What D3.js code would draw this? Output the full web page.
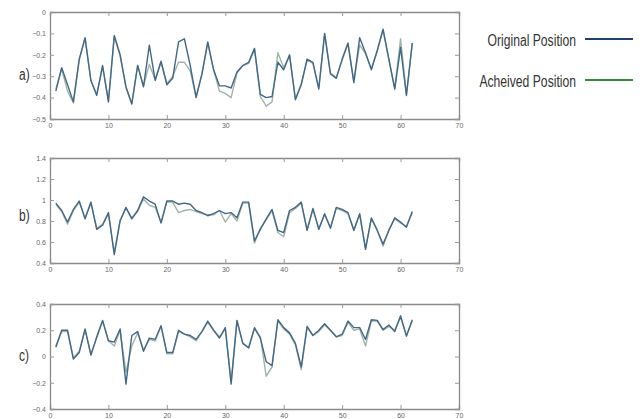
<!DOCTYPE html>
<html>
<head>
<meta charset="utf-8">
<script src="https://d3js.org/d3.v7.min.js"></script>
<style>
  body { margin: 0; background: #fff; }
  text { font-family: "Liberation Sans", Arial, sans-serif; }
</style>
</head>
<body>
<svg width="644" height="419"></svg>
<script>
// sample index along the x axis (1..62)
var steps = d3.range(1, 63);
var xTicks = [0, 10, 20, 30, 40, 50, 60, 70];

var origA = [-0.37, -0.26, -0.34, -0.42, -0.22, -0.12, -0.32, -0.39, -0.25, -0.42,
  -0.11, -0.20, -0.35, -0.43, -0.25, -0.35, -0.155, -0.32, -0.23, -0.34,
  -0.31, -0.14, -0.125, -0.25, -0.40, -0.29, -0.14, -0.27, -0.345, -0.345,
  -0.355, -0.28, -0.25, -0.235, -0.17, -0.385, -0.40, -0.395, -0.235, -0.27,
  -0.20, -0.41, -0.34, -0.22, -0.235, -0.36, -0.10, -0.29, -0.31, -0.22,
  -0.145, -0.33, -0.12, -0.19, -0.27, -0.18, -0.08, -0.22, -0.36, -0.165, -0.39, -0.145];
var achA = [-0.36, -0.265, -0.37, -0.425, -0.225, -0.125, -0.32, -0.385, -0.255, -0.415,
  -0.115, -0.205, -0.35, -0.43, -0.25, -0.345, -0.245, -0.315, -0.235, -0.335,
  -0.30, -0.235, -0.235, -0.275, -0.395, -0.29, -0.145, -0.27, -0.37, -0.38,
  -0.40, -0.285, -0.25, -0.24, -0.175, -0.395, -0.44, -0.42, -0.19, -0.26,
  -0.205, -0.405, -0.335, -0.225, -0.24, -0.355, -0.105, -0.285, -0.305, -0.225,
  -0.15, -0.325, -0.155, -0.195, -0.265, -0.185, -0.085, -0.225, -0.355, -0.125, -0.385, -0.15];
var yTicksA = [-0.5, -0.4, -0.3, -0.2, -0.1, 0];

var origB = [0.97, 0.90, 0.79, 0.91, 0.99, 0.82, 0.98, 0.72, 0.76, 0.88,
  0.48, 0.80, 0.93, 0.82, 0.90, 1.03, 0.99, 0.96, 0.78, 0.99,
  0.99, 0.96, 0.97, 0.96, 0.90, 0.88, 0.85, 0.87, 0.90, 0.87,
  0.88, 0.83, 0.98, 0.98, 0.61, 0.72, 0.82, 0.91, 0.71, 0.69,
  0.90, 0.93, 0.98, 0.71, 0.92, 0.72, 0.87, 0.73, 0.93, 0.91,
  0.88, 0.71, 0.87, 0.53, 0.83, 0.71, 0.58, 0.71, 0.83, 0.79, 0.74, 0.89];
var achB = [0.96, 0.89, 0.77, 0.90, 0.98, 0.83, 0.97, 0.73, 0.77, 0.87,
  0.50, 0.81, 0.92, 0.83, 0.89, 1.01, 0.95, 0.93, 0.79, 0.98,
  0.98, 0.88, 0.90, 0.91, 0.89, 0.87, 0.86, 0.86, 0.90, 0.79,
  0.87, 0.80, 0.97, 0.97, 0.59, 0.73, 0.81, 0.90, 0.69, 0.65,
  0.88, 0.92, 0.97, 0.72, 0.91, 0.73, 0.86, 0.74, 0.92, 0.90,
  0.87, 0.72, 0.86, 0.54, 0.82, 0.72, 0.56, 0.72, 0.82, 0.78, 0.75, 0.88];
var yTicksB = [0.4, 0.6, 0.8, 1, 1.2, 1.4];

var origC = [0.07, 0.20, 0.20, -0.02, 0.03, 0.21, 0.01, 0.15, 0.275, 0.12,
  0.11, 0.21, -0.21, 0.16, 0.19, 0.04, 0.14, 0.13, 0.235, 0.03,
  0.03, 0.20, 0.17, 0.16, 0.13, 0.19, 0.27, 0.20, 0.14, 0.22,
  -0.21, 0.275, 0.10, 0.065, 0.22, 0.14, -0.04, -0.07, 0.28, 0.22,
  0.18, 0.10, -0.08, 0.23, 0.16, 0.20, 0.25, 0.20, 0.15, 0.17,
  0.27, 0.22, 0.22, 0.13, 0.28, 0.275, 0.205, 0.24, 0.19, 0.31, 0.155, 0.28];
var achC = [0.08, 0.19, 0.19, -0.01, 0.04, 0.20, 0.02, 0.14, 0.27, 0.12,
  0.08, 0.20, -0.12, 0.08, 0.18, 0.05, 0.13, 0.12, 0.23, 0.02,
  0.02, 0.19, 0.17, 0.15, 0.12, 0.19, 0.26, 0.20, 0.15, 0.21,
  -0.19, 0.27, 0.10, 0.07, 0.21, 0.15, -0.15, -0.08, 0.27, 0.21,
  0.17, 0.09, -0.10, 0.22, 0.16, 0.19, 0.24, 0.20, 0.15, 0.16,
  0.26, 0.20, 0.21, 0.08, 0.27, 0.27, 0.20, 0.23, 0.20, 0.30, 0.16, 0.27];
var yTicksC = [-0.4, -0.2, 0, 0.2, 0.4];

var panelLabels = ["a)", "b)", "c)"];
var legendLabels = ["Original Position", "Acheived Position"];
var lineColors = ["#436788", "#9fb5a6"];

var svg = d3.select("svg");
var left = 50, right = 459;

var panels = [
  {label: panelLabels[0], top: 12, bottom: 119, labelY: 80, ticks: yTicksA, series: [achA, origA]},
  {label: panelLabels[1], top: 158, bottom: 263, labelY: 221, ticks: yTicksB, series: [achB, origB]},
  {label: panelLabels[2], top: 304, bottom: 409, labelY: 361, ticks: yTicksC, series: [achC, origC]}
];

var x = d3.scaleLinear().domain([0, 70]).range([left, right]);

// narrow text, the original figure uses a condensed face
function narrow(sel, px, py, k) {
  sel.attr("transform", "translate(" + px + "," + py + ") scale(" + k + ",1)");
}

panels.forEach(function(p) {
  var y = d3.scaleLinear()
    .domain(d3.extent(p.ticks))
    .range([p.bottom, p.top]);
  var g = svg.append("g");
  var fmt = function(d) { return d3.format("")(+d.toFixed(1)); };

  // matlab style box with inward ticks on all sides
  g.append("g")
    .attr("transform", "translate(0," + p.bottom + ")")
    .call(d3.axisBottom(x).tickValues(xTicks).tickSize(-4).tickPadding(4).tickFormat(d3.format("d")));
  g.append("g")
    .attr("transform", "translate(0," + p.top + ")")
    .call(d3.axisTop(x).tickValues(xTicks).tickSize(-4).tickFormat(""));
  g.append("g")
    .attr("transform", "translate(" + left + ",0)")
    .call(d3.axisLeft(y).tickValues(p.ticks).tickSize(-4).tickPadding(4).tickFormat(fmt));
  g.append("g")
    .attr("transform", "translate(" + right + ",0)")
    .call(d3.axisRight(y).tickValues(p.ticks).tickSize(-4).tickFormat(""));

  g.selectAll(".domain").attr("stroke", "#8a8a8a").attr("stroke-width", 1.3);
  g.selectAll(".tick line").attr("stroke", "#9a9a9a");
  g.selectAll(".tick text").attr("fill", "#666").attr("font-size", 7);

  var line = d3.line()
    .x(function(d, i) { return x(steps[i]); })
    .y(function(d) { return y(d); });

  g.selectAll("path.series")
    .data(p.series)
    .enter().append("path")
      .attr("class", "series")
      .attr("fill", "none")
      .attr("stroke", function(d, i) { return i ? lineColors[0] : lineColors[1]; })
      .attr("stroke-width", 1.4)
      .attr("stroke-linejoin", "round")
      .attr("d", line);

  svg.append("text")
    .attr("font-size", 16)
    .attr("fill", "#333")
    .call(narrow, 19, p.labelY, 0.75)
    .text(p.label);
});

// legend
var legend = svg.append("g");
var legendColors = ["#1f3f6e", "#2f8a3a"];
legendLabels.forEach(function(name, i) {
  var ly = 39 + i * 41;
  legend.append("text")
    .attr("text-anchor", "end")
    .attr("font-size", 16)
    .attr("fill", "#333")
    .call(narrow, 576, ly + 7, 0.76)
    .text(name);
  legend.append("line")
    .attr("x1", 585).attr("x2", 633)
    .attr("y1", ly).attr("y2", ly)
    .attr("stroke", legendColors[i])
    .attr("stroke-width", 2);
});
</script>
</body>
</html>
